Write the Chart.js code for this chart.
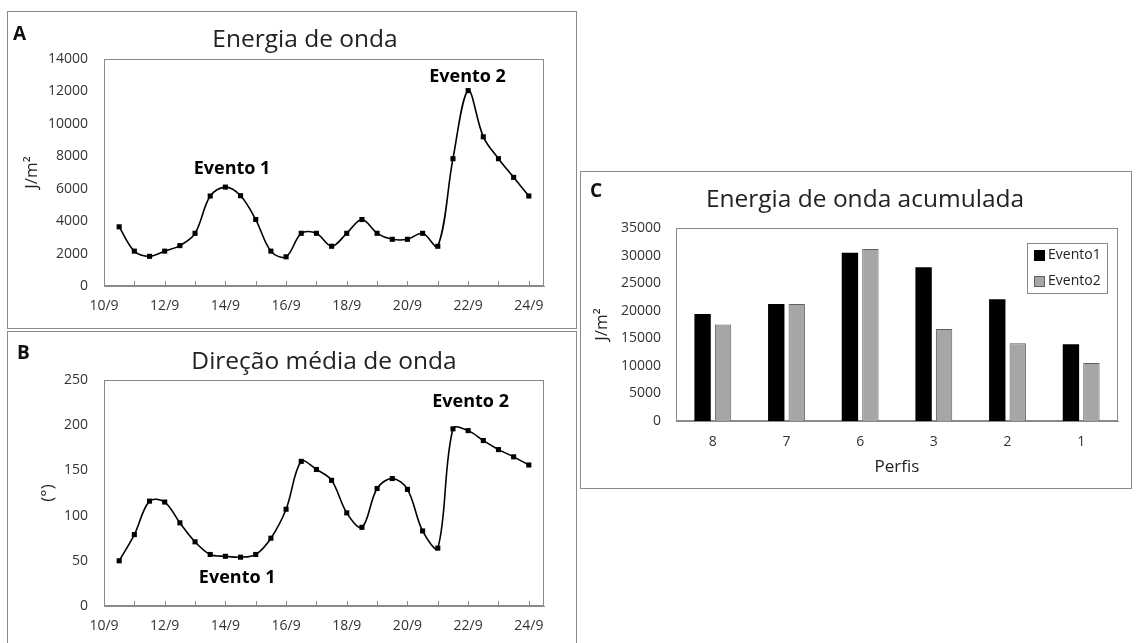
<!DOCTYPE html>
<html lang="pt">
<head>
<meta charset="UTF-8">
<title>Energia e direção de onda</title>
<script src="https://cdn.jsdelivr.net/npm/chart.js"></script>
<style>
  body {
    margin: 0;
    background: #fff;
    font-family: "Open Sans", sans-serif;
    width: 1137px;
    height: 643px;
    overflow: hidden;
    position: relative;
  }
  .painel {
    position: absolute;
    box-sizing: border-box;
    border: 1px solid #8a8a8a;
    background: #fff;
  }
  .painel canvas { position: absolute; left: 0; top: 0; }
  .letra {
    position: absolute;
    font-weight: bold;
    font-size: 19px;
    line-height: 20px;
    color: #111;
  }
  .titulo {
    position: absolute;
    font-size: 24.5px;
    line-height: 30px;
    color: #222;
    white-space: nowrap;
    transform: translate(-50%, -50%);
  }
</style>
</head>
<body>
  <div class="painel" style="left:7px; top:11px; width:570px; height:318px;">
    <canvas id="graficoA" width="568" height="316"></canvas>
  </div>
  <div class="painel" style="left:7px; top:331px; width:570px; height:318px;">
    <canvas id="graficoB" width="568" height="316"></canvas>
  </div>
  <div class="painel" style="left:580px; top:171px; width:552px; height:318px;">
    <canvas id="graficoC" width="550" height="316"></canvas>
  </div>

  <div class="letra" style="left:13px; top:23px;">A</div>
  <div class="letra" style="left:17px; top:342px;">B</div>
  <div class="letra" style="left:590px; top:180px;">C</div>
  <div class="titulo" style="left:305px; top:38px;">Energia de onda</div>
  <div class="titulo" style="left:324px; top:360px;">Direção média de onda</div>
  <div class="titulo" style="left:865px; top:198px;">Energia de onda acumulada</div>

<script>
// dias (setembro), medições a cada meio dia
const dias = [10.5, 11, 11.5, 12, 12.5, 13, 13.5, 14, 14.5, 15, 15.5, 16,
              16.5, 17, 17.5, 18, 18.5, 19, 19.5, 20, 20.5, 21,
              21.5, 22, 22.5, 23, 23.5, 24];
const energia = [3650, 2150, 1830, 2150, 2490, 3250, 5550, 6100, 5570, 4100, 2150, 1800,
                 3250, 3250, 2450, 3250, 4100, 3250, 2880, 2880, 3250, 2450,
                 7850, 12050, 9200, 7850, 6700, 5550];
const direcao = [50, 79, 116, 115, 92, 71, 57, 55, 54, 57, 75, 107,
                 160, 151, 139, 103, 87, 130, 141, 129, 83, 64,
                 196, 194, 183, 173, 165, 156];

const perfis = ['8', '7', '6', '3', '2', '1'];
const evento1 = [19400, 21200, 30500, 27900, 22100, 13900];
const evento2 = [17500, 21200, 31200, 16700, 14100, 10500];

Chart.defaults.font.family = '"Open Sans", sans-serif';
Chart.defaults.color = '#333';

const CINZA = '#8a8a8a';

// moldura da área do gráfico
const moldura = {
  id: 'moldura',
  beforeDatasetsDraw(chart) {
    const { ctx, chartArea: a } = chart;
    ctx.save();
    ctx.strokeStyle = CINZA;
    ctx.lineWidth = 1;
    ctx.strokeRect(Math.round(a.left) + 0.5, Math.round(a.top) + 0.5,
                   Math.round(a.width) - 1, Math.round(a.height) - 1);
    ctx.restore();
  }
};

// marcas de escala para dentro, estilo Excel
const marcasInternas = {
  id: 'marcasInternas',
  afterDatasetsDraw(chart, args, opts) {
    if (!opts.ativo) return;
    const x = chart.scales.x, { ctx, chartArea } = chart;
    ctx.save();
    ctx.strokeStyle = CINZA;
    ctx.lineWidth = 1;
    x.ticks.forEach(t => {
      const px = Math.round(x.getPixelForValue(t.value)) + 0.5;
      ctx.beginPath();
      ctx.moveTo(px, chartArea.bottom);
      ctx.lineTo(px, chartArea.bottom - 5);
      ctx.stroke();
    });
    ctx.restore();
  }
};

// textos "Evento" em coordenadas dos dados
const rotulosEventos = {
  id: 'rotulosEventos',
  afterDatasetsDraw(chart, args, opts) {
    const { ctx, scales: { x, y } } = chart;
    ctx.save();
    ctx.font = 'bold 18px "Open Sans", sans-serif';
    ctx.fillStyle = '#000';
    ctx.textAlign = 'center';
    ctx.textBaseline = 'middle';
    (opts.itens || []).forEach(r => {
      ctx.fillText(r.texto, x.getPixelForValue(r.x), y.getPixelForValue(r.y));
    });
    ctx.restore();
  }
};

// legenda com caixa dentro da área do gráfico
const legendaCaixa = {
  id: 'legendaCaixa',
  afterDraw(chart) {
    const { ctx, chartArea: a } = chart;
    const w = 80, h = 50;
    const x0 = Math.round(a.right - 11 - w), y0 = Math.round(a.top + 15);
    ctx.save();
    ctx.fillStyle = '#fff';
    ctx.fillRect(x0, y0, w, h);
    ctx.strokeStyle = CINZA;
    ctx.lineWidth = 1;
    ctx.strokeRect(x0 + 0.5, y0 + 0.5, w, h);
    ctx.font = '14px "Open Sans", sans-serif';
    ctx.textBaseline = 'middle';
    chart.data.datasets.forEach((ds, i) => {
      const cy = y0 + 12 + i * 26;
      ctx.fillStyle = ds.backgroundColor;
      ctx.fillRect(x0 + 7, cy - 5, 11, 11);
      if (ds.borderWidth) {
        ctx.strokeStyle = ds.borderColor;
        ctx.strokeRect(x0 + 7.5, cy - 4.5, 10, 10);
      }
      ctx.fillStyle = '#222';
      ctx.fillText(ds.label, x0 + 21, cy);
    });
    ctx.restore();
  }
};

function graficoLinha(id, valores, ymax, passo, tituloY, padTitulo, topo, eventos) {
  new Chart(document.getElementById(id), {
    type: 'line',
    data: {
      datasets: [{
        data: dias.map((d, i) => ({ x: d, y: valores[i] })),
        borderColor: '#000',
        backgroundColor: '#000',
        borderWidth: 1.6,
        tension: 0.35,
        pointStyle: 'rect',
        pointRadius: 3.6,
        pointBorderWidth: 0
      }]
    },
    options: {
      responsive: false,
      animation: false,
      devicePixelRatio: 1,
      layout: { padding: { left: 0, top: topo, right: 32, bottom: 0 } },
      plugins: {
        legend: { display: false },
        tooltip: { enabled: false },
        marcasInternas: { ativo: true },
        rotulosEventos: { itens: eventos }
      },
      scales: {
        x: {
          type: 'linear',
          min: 10,
          max: 24.5,
          grid: { display: false, drawTicks: false },
          border: { display: true, color: CINZA },
          ticks: {
            stepSize: 1,
            includeBounds: false,
            padding: 12,
            maxRotation: 0,
            autoSkip: false,
            font: { size: 14 },
            callback: v => (v % 2 === 0 ? v + '/9' : '')
          },
          afterFit: s => { s.height = 42; }
        },
        y: {
          min: 0,
          max: ymax,
          grid: { display: false, drawTicks: false },
          border: { display: true, color: CINZA },
          ticks: {
            stepSize: passo,
            padding: 16,
            font: { size: 14 },
            callback: v => String(v)
          },
          title: {
            display: true,
            text: tituloY,
            color: '#222',
            font: { size: 17 },
            padding: { top: padTitulo, bottom: 0 }
          },
          afterFit: s => { s.width = 96; }
        }
      }
    },
    plugins: [moldura, marcasInternas, rotulosEventos]
  });
}

graficoLinha('graficoA', energia, 14000, 2000, 'J/m²', 13.8, 47, [
  { texto: 'Evento 1', x: 14.22, y: 7215 },
  { texto: 'Evento 2', x: 21.98, y: 12890 }
]);

graficoLinha('graficoB', direcao, 250, 50, '(°)', 29.8, 48, [
  { texto: 'Evento 1', x: 14.39, y: 31 },
  { texto: 'Evento 2', x: 22.08, y: 225.7 }
]);

new Chart(document.getElementById('graficoC'), {
  type: 'bar',
  data: {
    labels: perfis,
    datasets: [
      {
        label: 'Evento1',
        data: evento1,
        backgroundColor: '#000',
        borderWidth: 0,
        categoryPercentage: 0.556,
        barPercentage: 0.8
      },
      {
        label: 'Evento2',
        data: evento2,
        backgroundColor: '#a6a6a6',
        borderColor: '#5f5f5f',
        borderWidth: 1,
        categoryPercentage: 0.556,
        barPercentage: 0.8
      }
    ]
  },
  options: {
    responsive: false,
    animation: false,
    devicePixelRatio: 1,
    layout: { padding: { left: 0, top: 56, right: 13, bottom: 0 } },
    plugins: {
      legend: { display: false },
      tooltip: { enabled: false }
    },
    scales: {
      x: {
        grid: { display: false, drawTicks: false },
        border: { display: true, color: CINZA },
        ticks: { padding: 13, font: { size: 14 } },
        title: {
          display: true,
          text: 'Perfis',
          color: '#222',
          font: { size: 17 },
          padding: { top: 0, bottom: 11 }
        },
        afterFit: s => { s.height = 67; }
      },
      y: {
        min: 0,
        max: 35000,
        grid: { display: false, drawTicks: false },
        border: { display: true, color: CINZA },
        ticks: {
          stepSize: 5000,
          padding: 15,
          font: { size: 14 },
          callback: v => String(v)
        },
        title: {
          display: true,
          text: 'J/m²',
          color: '#222',
          font: { size: 17 },
          padding: { top: 10.8, bottom: 0 }
        },
        afterFit: s => { s.width = 95; }
      }
    }
  },
  plugins: [moldura, legendaCaixa]
});
</script>
</body>
</html>
